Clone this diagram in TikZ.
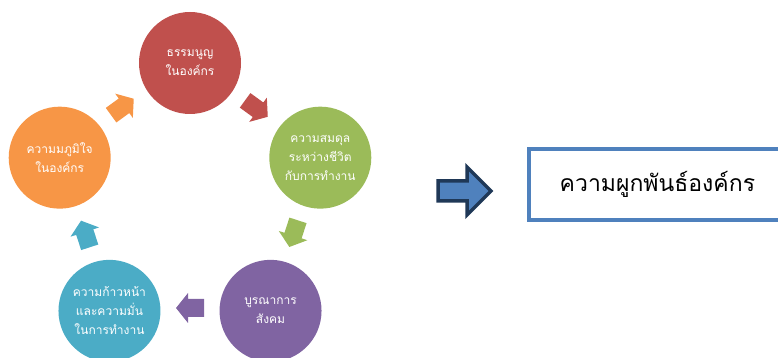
\documentclass[tikz,border=0pt]{standalone}
\usepackage{fontspec}
\newfontfamily\thaifont[Script=Thai]{Loma}
\definecolor{cred}{HTML}{C0504D}
\definecolor{cgreen}{HTML}{9BBB59}
\definecolor{cpurple}{HTML}{8064A2}
\definecolor{cteal}{HTML}{4BACC6}
\definecolor{corange}{HTML}{F79646}
\definecolor{cblue}{HTML}{4F81BD}
\definecolor{cnavy}{HTML}{1F3857}
\tikzset{
  bubble/.style={circle, minimum size=102pt, inner sep=0pt, fill=#1, text=white,
    align=center, font=\thaifont\fontsize{12}{19}\selectfont},
  cyc/.pic={\fill[#1] (-14pt,-9pt) -- (2pt,-9pt) -- (2pt,-15pt) -- (14pt,0pt)
    -- (2pt,15pt) -- (2pt,9pt) -- (-14pt,9pt) -- cycle;},
  resultbox/.style={draw=cblue, line width=3.8pt, fill=white, minimum width=263pt,
    minimum height=71pt, inner sep=0pt, font=\thaifont\fontsize{23}{27}\selectfont}
}
\begin{document}
\begin{tikzpicture}[x=1pt,y=1pt]
\useasboundingbox (0,0) rectangle (778,358);
\coordinate (C) at (190,158);
\node[bubble=cred]    (red)    at ([shift={(90:137pt)}]C)   {ธรรมนูญ\\ในองค์กร};
\node[bubble=cgreen]  (green)  at ([shift={(18:137pt)}]C)   {ความสมดุล\\ระหว่างชีวิต\\กับการทำงาน};
\node[bubble=cpurple] (purple) at ([shift={(-54:137pt)}]C)  {บูรณาการ\\สังคม};
\node[bubble=cteal]   (teal)   at ([shift={(-126:137pt)}]C) {ความก้าวหน้า\\และความมั่น\\ในการทำงาน};
\node[bubble=corange] (orange) at ([shift={(162:137pt)}]C)  {ความมภูมิใจ\\ในองค์กร};
\pic[rotate=36]   at ([shift={(126:115pt)}]C)  {cyc=corange};
\pic[rotate=-36]  at ([shift={(54:113pt)}]C)   {cyc=cred};
\pic[rotate=-108] at ([shift={(-18:109pt)}]C)  {cyc=cgreen};
\pic[rotate=180]  at ([shift={(-90:108pt)}]C)  {cyc=cpurple};
\pic[rotate=108]  at ([shift={(-162:110pt)}]C) {cyc=cteal};
% big arrow
\filldraw[fill=cblue, draw=cnavy, line width=3.5pt, line join=miter]
  (438,157) -- (467,157) -- (467,143) -- (491,167) -- (467,191) -- (467,177)
  -- (438,177) -- cycle;
\begin{scope}
\clip (0,0) rectangle (778,358);
\node[resultbox, anchor=west] (result) at (527,173.5) {\hspace*{-6pt}ความผูกพันธ์องค์กร};
\end{scope}
\end{tikzpicture}
\end{document}
